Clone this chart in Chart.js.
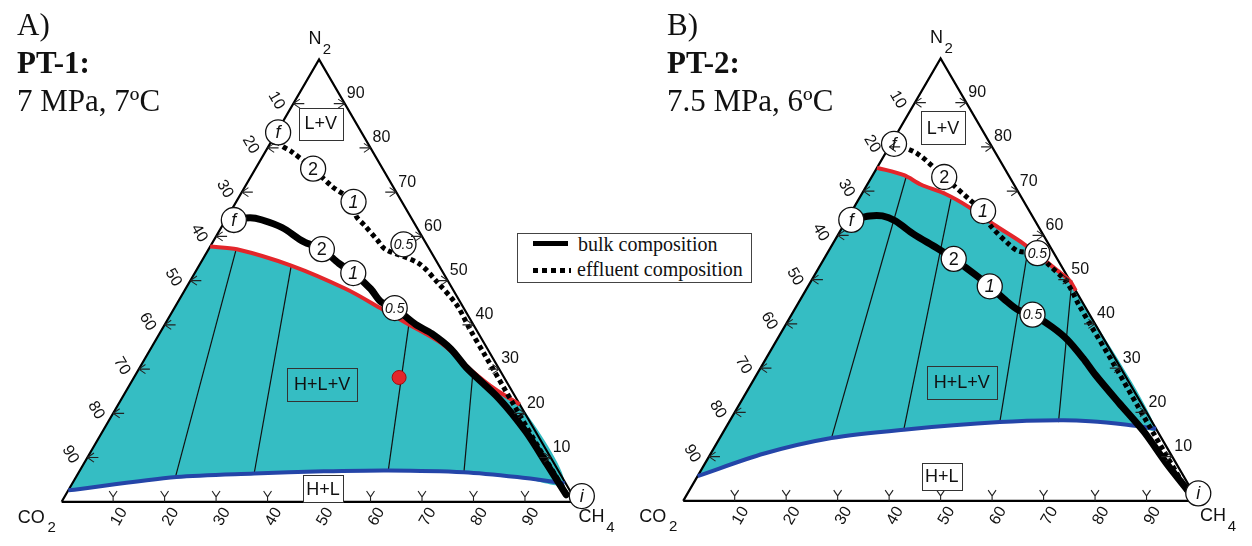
<!DOCTYPE html>
<html>
<head>
<meta charset="utf-8">
<title>Ternary N2-CO2-CH4</title>
<script src="https://cdn.jsdelivr.net/npm/chart.js@4.4.1/dist/chart.umd.min.js"></script>
<style>
  body { margin: 0; background: #fff; }
  #wrap { position: relative; width: 1252px; height: 546px; overflow: hidden; }
  #wrap canvas { position: absolute; top: 0; }
  .txt { position: absolute; font-family: "Liberation Serif", "Times New Roman", serif; line-height: 1; white-space: nowrap; color: #111; }
  .big { font-size: 31px; }
  .leg { font-size: 20px; }
</style>
</head>
<body>
<div id="wrap">
  <canvas id="chartA" width="640" height="546" style="left:0"></canvas>
  <canvas id="chartB" width="640" height="546" style="left:612px"></canvas>

  <div class="txt big" style="left:17px;top:9px">A)</div>
  <div class="txt big" style="left:17px;top:47px;font-weight:bold">PT-1:</div>
  <div class="txt big" style="left:17px;top:85px">7 MPa, 7ºC</div>
  <div class="txt big" style="left:667px;top:9px">B)</div>
  <div class="txt big" style="left:667px;top:47px;font-weight:bold">PT-2:</div>
  <div class="txt big" style="left:667px;top:85px">7.5 MPa, 6ºC</div>

  <div style="position:absolute;left:517px;top:233px;width:233px;height:48px;border:1px solid #444;background:#fff"></div>
  <div style="position:absolute;left:533px;top:241px;width:35px;height:5px;background:#000"></div>
  <div class="txt leg" style="left:578px;top:234px">bulk composition</div>
  <div style="position:absolute;left:533px;top:268px;width:38px;height:5px;background:repeating-linear-gradient(90deg,#000 0 5px,transparent 5px 9px)"></div>
  <div class="txt leg" style="left:577px;top:259px">effluent composition</div>
</div>

<script>
// compositions are [CH4 %, N2 %]; CO2 is the remainder
const tickValues = [10, 20, 30, 40, 50, 60, 70, 80, 90];
const markLabels = ['f', '2', '1', '0.5'];

// PT-1: 7 MPa, 7 ºC
const pt1Red = [[0, 57.7], [5.5, 57.1], [17.9, 53.4], [31.2, 48.1], [40.0, 43.8], [47.4, 40.1], [55.9, 35.8], [65.2, 29.4], [71.4, 25.5], [78.0, 22.0]];
const pt1Blue = [[0, 2.6], [19.5, 5.6], [34.2, 6.4], [47.5, 6.9], [59.9, 7.1], [74.8, 6.7], [85.7, 5.6], [95.6, 4.2]];
const pt1Bulk = [[1.6, 63.7], [4.5, 64.2], [7.1, 63.7], [11.8, 62.0], [17.6, 58.8], [22.0, 57.1], [26.9, 53.9], [30.8, 51.7], [36.0, 48.1], [39.3, 45.3], [42.8, 43.8], [48.7, 40.1], [52.9, 38.0], [58.4, 34.5], [63.5, 30.3], [73.2, 23.4], [82.2, 15.9], [90.0, 8.5], [97.2, 1.6]];
const pt1Effluent = [[0.3, 83.5], [1.9, 80.9], [5.0, 79.2], [11.2, 75.3], [17.0, 71.2], [22.8, 67.8], [24.9, 64.6], [27.7, 62.4], [31.7, 59.2], [34.3, 57.1], [42.4, 53.9], [48.2, 49.6], [54.6, 44.4], [60.0, 38.8], [65.5, 33.3], [76.8, 22.0], [87.3, 11.5], [97.6, 1.4]];
const pt1Ties = [[[19.3, 5.6], [5.3, 57.3]], [[34.2, 6.4], [17.9, 53.4]], [[59.9, 7.1], [47.4, 40.1]], [[74.8, 6.7], [65.2, 29.4]]];
const pt1BulkMarks = [[1.6, 63.7], [22.0, 57.1], [30.8, 51.7], [42.8, 43.8]];
const pt1EffluentMarks = [[0.3, 83.5], [11.2, 75.3], [22.8, 67.8], [37.3, 58.2]];
const pt1Start = [100.4, 1.3];
const pt1Sample = [51.5, 28.1];

// PT-2: 7.5 MPa, 6 ºC
const pt2Red = [[0, 75.3], [6.1, 73.6], [10.4, 71.5], [16.4, 69.3], [22.1, 66.5], [29.2, 62.4], [36.9, 58.2], [46.6, 52.1], [50.3, 49.7], [52.5, 47.5]];
const pt2Blue = [[0, 5.6], [10.4, 10.7], [21.7, 14.2], [34.8, 16.1], [52.6, 17.8], [64.1, 18.2], [70.0, 18.0], [77.6, 17.2], [83.7, 16.3]];
const pt2Bulk = [[0.9, 63.5], [4.0, 64.4], [6.5, 64.4], [9.5, 63.3], [14.6, 60.3], [20.8, 57.1], [25.2, 54.7], [31.2, 51.1], [35.3, 48.5], [40.3, 45.1], [43.6, 43.1], [46.8, 42.1], [52.0, 39.3], [56.3, 36.5], [61.6, 32.2], [65.8, 28.5], [73.5, 22.2], [81.6, 15.7], [89.5, 8.6], [97.5, 1.8]];
const pt2Effluent = [[0.6, 80.7], [6.2, 78.5], [14.1, 73.2], [22.0, 67.8], [25.5, 65.5], [28.6, 62.2], [34.4, 57.9], [37.0, 56.4], [40.8, 56.0], [44.0, 53.6], [49.8, 49.4], [54.8, 44.2], [59.8, 39.2], [67.8, 31.3], [77.8, 21.2], [87.8, 11.2], [97.6, 1.4]];
const pt2Ties = [[[21.7, 14.2], [6.7, 73.2]], [[34.8, 16.1], [17.9, 68.2]], [[52.6, 17.8], [38.5, 57.0]], [[64.0, 17.8], [50.6, 49.8]]];
const pt2BulkMarks = [[0.9, 63.5], [25.2, 54.7], [35.3, 48.5], [46.8, 42.1]];
const pt2EffluentMarks = [[0.6, 80.7], [14.1, 73.2], [25.5, 65.5], [40.8, 56.0]];
const pt2Start = [99.2, 1.7];

const TEAL = '#35bdc3', RED = '#e3262b', BLUE = '#2445a8';
const CW = 640, CH = 546;
const ux = 538 / 100, uy = 466 / 100;   // px per % along the base and the height
const SANS = '"Liberation Sans", Arial, sans-serif';

const tern = ([ch4, n2]) => ({ x: ch4 + n2 / 2, y: n2 });

// region labels: text, anchor [CH4, N2], box width, box height, white background
const panels = [
  {
    canvas: 'chartA', ox: 50, oy: 514,
    red: pt1Red, blue: pt1Blue, bulk: pt1Bulk, effluent: pt1Effluent, ties: pt1Ties,
    bulkMarks: pt1BulkMarks, effluentMarks: pt1EffluentMarks, start: pt1Start, sample: pt1Sample,
    regions: [['L+V', [7.6, 85.5], 44, 32, true], ['H+L+V', [37.3, 26.6], 70, 33, false], ['H+L', [49.3, 2.9], 40, 27, true]]
  },
  {
    canvas: 'chartB', ox: 60, oy: 513,
    red: pt2Red, blue: pt2Blue, bulk: pt2Bulk, effluent: pt2Effluent, ties: pt2Ties,
    bulkMarks: pt2BulkMarks, effluentMarks: pt2EffluentMarks, start: pt2Start, sample: null,
    regions: [['L+V', [8.3, 84.3], 44, 33, true], ['H+L+V', [40.7, 26.8], 70, 33, false], ['H+L', [47.4, 5.6], 40, 27, true]]
  }
];

function line(points, color, width, order, extra) {
  return Object.assign({
    data: points.map(tern), borderColor: color, borderWidth: width,
    pointRadius: 0, fill: false, order: order
  }, extra || {});
}

function drawTick(ctx, p, side) {
  const dir = side === 'bottom' ? [0, -1] : side === 'left' ? [1, 0] : [-1, 0];
  const rot = (v, a) => [v[0] * Math.cos(a) - v[1] * Math.sin(a), v[0] * Math.sin(a) + v[1] * Math.cos(a)];
  ctx.beginPath();
  if (side === 'bottom') {
    const q = [p.x + dir[0] * 5, p.y + dir[1] * 5];
    ctx.moveTo(p.x, p.y); ctx.lineTo(q[0], q[1]);
    [0.6, -0.6].forEach(a => { const r = rot(dir, a); ctx.moveTo(q[0], q[1]); ctx.lineTo(q[0] + r[0] * 7, q[1] + r[1] * 7); });
  } else {
    ctx.moveTo(p.x, p.y); ctx.lineTo(p.x + dir[0] * 11, p.y + dir[1] * 11);
    [0.6, -0.6].forEach(a => { const r = rot(dir, a); ctx.moveTo(p.x, p.y); ctx.lineTo(p.x + r[0] * 8, p.y + r[1] * 8); });
  }
  ctx.stroke();
}

function rotText(ctx, text, x, y, angle) {
  ctx.save();
  ctx.translate(x, y);
  ctx.rotate(angle);
  ctx.textAlign = 'center';
  ctx.textBaseline = 'middle';
  ctx.fillText(text, 0, 0);
  ctx.restore();
}

function makeDecor(panel) {
  return {
    id: 'decor',
    afterDatasetsDraw(chart) {
      const ctx = chart.ctx, xs = chart.scales.x, ys = chart.scales.y;
      const at = (c) => { const t = tern(c); return { x: xs.getPixelForValue(t.x), y: ys.getPixelForValue(t.y) }; };
      ctx.save();

      // edge ticks
      ctx.strokeStyle = '#222';
      ctx.lineWidth = 1.1;
      tickValues.forEach(v => {
        drawTick(ctx, at([v, 0]), 'bottom');
        drawTick(ctx, at([0, 100 - v]), 'left');
        drawTick(ctx, at([100 - v, v]), 'right');
      });

      // phase-region boxes
      panel.regions.forEach(([text, c, w, h, white]) => {
        const q = at(c);
        const left = Math.round(q.x - w / 2), top = Math.round(q.y - h / 2);
        if (white) { ctx.fillStyle = '#fff'; ctx.fillRect(left, top, w, h); }
        ctx.strokeStyle = '#333';
        ctx.lineWidth = 1;
        ctx.strokeRect(left + 0.5, top + 0.5, w, h);
        ctx.fillStyle = '#111';
        ctx.font = '18px ' + SANS;
        ctx.textAlign = 'center';
        ctx.textBaseline = 'middle';
        ctx.fillText(text, q.x, q.y + 1);
      });

      // tick labels
      ctx.fillStyle = '#111';
      ctx.font = '16px ' + SANS;
      tickValues.forEach(v => {
        let q = at([v, 0]);
        rotText(ctx, String(v), q.x + 6, q.y + 15, -Math.PI / 3);
        q = at([0, 100 - v]);
        rotText(ctx, String(v), q.x - 17, q.y - 3, Math.PI / 3);
        q = at([100 - v, v]);
        ctx.textAlign = 'left';
        ctx.textBaseline = 'middle';
        ctx.fillText(String(v), q.x + 2, q.y - 10);
      });

      // vertex labels
      const sub = (main, s, x, y, sx, sy, align) => {
        ctx.font = '18px ' + SANS;
        ctx.textAlign = align;
        ctx.textBaseline = 'middle';
        ctx.fillText(main, x, y);
        ctx.font = '15px ' + SANS;
        ctx.textAlign = 'center';
        ctx.fillText(s, sx, sy);
      };
      const vN = at([0, 100]), vC = at([0, 0]), vM = at([100, 0]);
      sub('N', '2', vN.x - 4, vN.y - 20, vN.x + 8, vN.y - 10, 'center');
      sub('CO', '2', vC.x - 17, vC.y + 16, vC.x - 10, vC.y + 26, 'right');
      sub('CH', '4', vM.x + 2, vM.y + 15, vM.x + 34, vM.y + 26, 'left');

      // labels in the pore-volume circles
      const markFont = (t) => t === '2' ? '18px ' + SANS : t === '0.5' ? 'italic 14px ' + SANS : 'italic 18px ' + SANS;
      const marks = [];
      panel.bulkMarks.forEach((c, i) => marks.push([markLabels[i], c]));
      panel.effluentMarks.forEach((c, i) => marks.push([markLabels[i], c]));
      marks.push(['i', panel.start]);
      ctx.fillStyle = '#111';
      marks.forEach(([t, c]) => {
        const q = at(c);
        ctx.font = markFont(t);
        ctx.textAlign = 'center';
        ctx.textBaseline = 'middle';
        ctx.fillText(t, q.x, q.y + 1);
      });
      ctx.restore();
    }
  };
}

panels.forEach(panel => {
  const datasets = [];
  // circles carrying the injected pore volumes
  datasets.push({
    data: [...panel.bulkMarks, ...panel.effluentMarks, panel.start].map(tern),
    showLine: false, pointRadius: 12.5, pointBackgroundColor: '#fff',
    pointBorderColor: '#111', pointBorderWidth: 1.3, order: 0
  });
  if (panel.sample) {
    datasets.push({
      data: [tern(panel.sample)], showLine: false, pointRadius: 7,
      pointBackgroundColor: RED, pointBorderColor: '#9a1014', pointBorderWidth: 1, order: 1
    });
  }
  datasets.push(line(panel.effluent, '#000', 5, 2, { borderDash: [4.5, 3.5], tension: 0.3 }));
  datasets.push(line(panel.bulk, '#000', 7, 3, { tension: 0.3, borderCapStyle: 'round', borderJoinStyle: 'round' }));
  datasets.push(line(panel.red, RED, 4, 4, { tension: 0.3 }));
  datasets.push(line(panel.blue, BLUE, 4, 5, { tension: 0.3 }));
  datasets.push(line([[0, 0], [100, 0], [0, 100], [0, 0]], '#000', 2.2, 6, { tension: 0 }));
  panel.ties.forEach(t => datasets.push(line(t, '#111', 1.2, 7, { tension: 0 })));
  datasets.push(line([...panel.red, ...panel.blue.slice().reverse()], TEAL, 0, 9,
    { fill: 'shape', backgroundColor: TEAL, tension: 0.3 }));

  new Chart(document.getElementById(panel.canvas), {
    type: 'line',
    data: { datasets },
    options: {
      responsive: false,
      animation: false,
      devicePixelRatio: 1,
      events: [],
      layout: { padding: 0 },
      plugins: { legend: { display: false }, tooltip: { enabled: false } },
      scales: {
        x: { type: 'linear', display: false, min: -panel.ox / ux, max: (CW - panel.ox) / ux },
        y: { type: 'linear', display: false, min: -(CH - panel.oy) / uy, max: panel.oy / uy }
      },
      elements: { point: { radius: 0 } }
    },
    plugins: [makeDecor(panel)]
  });
});
</script>
</body>
</html>
